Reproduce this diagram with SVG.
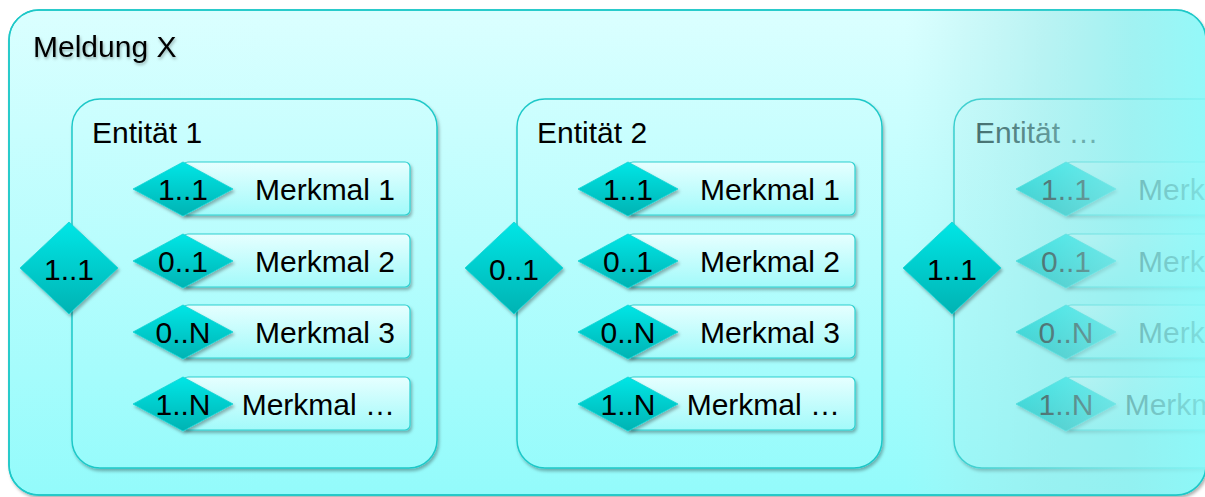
<svg xmlns="http://www.w3.org/2000/svg" width="1205" height="497" viewBox="0 0 1205 497">
  <defs>
    <linearGradient id="bgGrad" gradientUnits="userSpaceOnUse" x1="0" y1="10" x2="0" y2="495">
      <stop offset="0" stop-color="#dbffff"/>
      <stop offset="1" stop-color="#93fbfb"/>
    </linearGradient>
    <linearGradient id="diaGrad" x1="0" y1="0" x2="0" y2="1">
      <stop offset="0" stop-color="#00e6e6"/>
      <stop offset="1" stop-color="#00b3b3"/>
    </linearGradient>
    <linearGradient id="rowGrad" x1="0" y1="0" x2="0" y2="1">
      <stop offset="0" stop-color="#e6ffff"/>
      <stop offset="1" stop-color="#a2fafa"/>
    </linearGradient>
    <linearGradient id="fadeGrad" gradientUnits="userSpaceOnUse" x1="905" y1="0" x2="1205" y2="0">
      <stop offset="0" stop-color="#b4eeee" stop-opacity="0"/>
      <stop offset="0.2" stop-color="#a8e8e8" stop-opacity="0.25"/>
      <stop offset="0.45" stop-color="#9ce8e8" stop-opacity="0.5"/>
      <stop offset="0.75" stop-color="#92eeee" stop-opacity="0.78"/>
      <stop offset="1" stop-color="#8cf8f8" stop-opacity="0.9"/>
    </linearGradient>
    <filter id="shadow" x="-10%" y="-10%" width="130%" height="130%">
      <feDropShadow dx="1.5" dy="2.5" stdDeviation="1.5" flood-color="#000" flood-opacity="0.3"/>
    </filter>
    <filter id="txtShadow" x="-10%" y="-20%" width="130%" height="150%">
      <feDropShadow dx="1" dy="2" stdDeviation="1.5" flood-color="#000" flood-opacity="0.3"/>
    </filter>
    <clipPath id="outerClip">
      <rect x="9" y="10" width="1197" height="485" rx="30"/>
    </clipPath>
    <style>
      text { font-family: "Liberation Sans", Arial, sans-serif; font-size: 30px; fill: #000; }
      .mid { text-anchor: middle; }
      .end { text-anchor: end; }
      .box { fill: url(#bgGrad); stroke: #1ec8c8; stroke-width: 1.5; filter: url(#shadow); }
      .row { fill: url(#rowGrad); stroke: #2ed0d0; stroke-width: 1.2; filter: url(#shadow); }
      .dia { fill: url(#diaGrad); stroke: #14d4d4; stroke-width: 0.8; filter: url(#shadow); }
      .faded { fill: #1f3f3f; }
    </style>
  </defs>

  <g id="meldung">
    <rect x="9" y="10" width="1197" height="485" rx="30" fill="url(#bgGrad)" stroke="#1ec8c8" stroke-width="1.5" filter="url(#shadow)"/>
    <text x="33" y="57" filter="url(#txtShadow)">Meldung X</text>
  </g>

  <g clip-path="url(#outerClip)">
    <g id="entitaet1">
      <rect class="box" x="72" y="99" width="365" height="369" rx="28"/>
      <text x="92" y="143">Entität 1</text>
      <g id="e1-m1">
        <rect class="row" x="183" y="162" width="227" height="53" rx="5"/>
        <polygon class="dia" points="133,189 183,162 233,189 183,216"/>
        <text class="mid" x="183" y="200">1..1</text>
        <text class="end" x="395" y="200">Merkmal 1</text>
      </g>
      <g id="e1-m2">
        <rect class="row" x="183" y="234" width="227" height="53" rx="5"/>
        <polygon class="dia" points="133,261 183,234 233,261 183,288"/>
        <text class="mid" x="183" y="272">0..1</text>
        <text class="end" x="395" y="272">Merkmal 2</text>
      </g>
      <g id="e1-m3">
        <rect class="row" x="183" y="305" width="227" height="53" rx="5"/>
        <polygon class="dia" points="133,332 183,305 233,332 183,359"/>
        <text class="mid" x="183" y="343">0..N</text>
        <text class="end" x="395" y="343">Merkmal 3</text>
      </g>
      <g id="e1-m4">
        <rect class="row" x="183" y="377" width="227" height="53" rx="5"/>
        <polygon class="dia" points="133,404 183,377 233,404 183,431"/>
        <text class="mid" x="183" y="415">1..N</text>
        <text class="end" x="395" y="415">Merkmal …</text>
      </g>
      <g id="e1-card">
        <polygon class="dia" points="20,268 69,222 118,268 69,314"/>
        <text class="mid" x="69" y="280">1..1</text>
      </g>
    </g>

    <g id="entitaet2">
      <rect class="box" x="517" y="99" width="365" height="369" rx="28"/>
      <text x="537" y="143">Entität 2</text>
      <g id="e2-m1">
        <rect class="row" x="628" y="162" width="227" height="53" rx="5"/>
        <polygon class="dia" points="578,189 628,162 678,189 628,216"/>
        <text class="mid" x="628" y="200">1..1</text>
        <text class="end" x="840" y="200">Merkmal 1</text>
      </g>
      <g id="e2-m2">
        <rect class="row" x="628" y="234" width="227" height="53" rx="5"/>
        <polygon class="dia" points="578,261 628,234 678,261 628,288"/>
        <text class="mid" x="628" y="272">0..1</text>
        <text class="end" x="840" y="272">Merkmal 2</text>
      </g>
      <g id="e2-m3">
        <rect class="row" x="628" y="305" width="227" height="53" rx="5"/>
        <polygon class="dia" points="578,332 628,305 678,332 628,359"/>
        <text class="mid" x="628" y="343">0..N</text>
        <text class="end" x="840" y="343">Merkmal 3</text>
      </g>
      <g id="e2-m4">
        <rect class="row" x="628" y="377" width="227" height="53" rx="5"/>
        <polygon class="dia" points="578,404 628,377 678,404 628,431"/>
        <text class="mid" x="628" y="415">1..N</text>
        <text class="end" x="840" y="415">Merkmal …</text>
      </g>
      <g id="e2-card">
        <polygon class="dia" points="465,268 514,222 563,268 514,314"/>
        <text class="mid" x="514" y="280">0..1</text>
      </g>
    </g>

    <g id="entitaet3">
      <rect class="box" x="954" y="99" width="365" height="369" rx="28"/>
      <text class="faded" x="975" y="143">Entität …</text>
      <g id="e3-m1">
        <rect class="row" x="1066" y="162" width="227" height="53" rx="5"/>
        <polygon class="dia" points="1016,189 1066,162 1116,189 1066,216"/>
        <text class="mid" x="1066" y="200">1..1</text>
        <text class="end" x="1278" y="200">Merkmal 1</text>
      </g>
      <g id="e3-m2">
        <rect class="row" x="1066" y="234" width="227" height="53" rx="5"/>
        <polygon class="dia" points="1016,261 1066,234 1116,261 1066,288"/>
        <text class="mid" x="1066" y="272">0..1</text>
        <text class="end" x="1278" y="272">Merkmal 2</text>
      </g>
      <g id="e3-m3">
        <rect class="row" x="1066" y="305" width="227" height="53" rx="5"/>
        <polygon class="dia" points="1016,332 1066,305 1116,332 1066,359"/>
        <text class="mid" x="1066" y="343">0..N</text>
        <text class="end" x="1278" y="343">Merkmal 3</text>
      </g>
      <g id="e3-m4">
        <rect class="row" x="1066" y="377" width="227" height="53" rx="5"/>
        <polygon class="dia" points="1016,404 1066,377 1116,404 1066,431"/>
        <text class="mid" x="1066" y="415">1..N</text>
        <text class="end" x="1278" y="415">Merkmal …</text>
      </g>
      <rect x="905" y="10" width="305" height="485" fill="url(#fadeGrad)"/>
      <g id="e3-card">
        <polygon class="dia" points="903,268 952,222 1001,268 952,314"/>
        <text class="mid" x="952" y="280">1..1</text>
      </g>
    </g>
  </g>
  <rect x="9" y="10" width="1197" height="485" rx="30" fill="none" stroke="#1ec8c8" stroke-width="1.5"/>
</svg>
